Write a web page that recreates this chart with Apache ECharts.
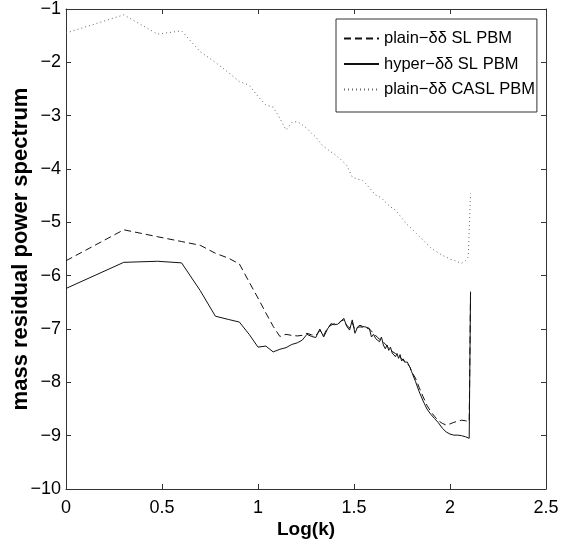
<!DOCTYPE html>
<html>
<head>
<meta charset="utf-8">
<script src="https://cdn.jsdelivr.net/npm/echarts@6/dist/echarts.min.js"></script>
<style>html,body{margin:0;padding:0;background:#fff;}#c{width:563px;height:548px;}</style>
</head>
<body>
<div id="c"></div>
<script>
// plain-δδ SL PBM (dashed)
const plainSL_x = [0,0.301,0.477,0.602,0.699,0.778,0.845,0.903,0.954,1.0,1.041,1.079,1.114,1.146,1.176,1.204,1.230,1.255,1.279,1.301,1.322,1.342,1.362,1.380,1.398,1.415,1.431,1.447,1.462,1.477,1.491,1.505,1.519,1.531,1.556,1.580,1.602,1.623,1.643,1.663,1.681,1.699,1.716,1.732,1.748,1.763,1.778,1.792,1.80,1.82,1.84,1.86,1.88,1.90,1.92,1.94,1.96,1.98,2.00,2.02,2.04,2.06,2.08,2.100,2.107];
const plainSL_y = [-5.72,-5.14,-5.27,-5.36,-5.43,-5.58,-5.67,-5.78,-6.12,-6.42,-6.70,-6.95,-7.14,-7.10,-7.12,-7.13,-7.12,-7.08,-7.11,-7.12,-7.03,-7.12,-6.98,-6.93,-6.90,-6.92,-6.85,-6.83,-6.93,-6.98,-6.88,-7.02,-6.97,-6.96,-6.97,-7.00,-7.08,-7.16,-7.22,-7.28,-7.36,-7.42,-7.46,-7.50,-7.56,-7.60,-7.64,-7.72,-7.80,-7.92,-8.10,-8.27,-8.43,-8.55,-8.64,-8.72,-8.77,-8.80,-8.78,-8.75,-8.73,-8.71,-8.72,-8.74,-6.30];
// hyper-δδ SL PBM (solid)
const hyperSL_x = [0,0.301,0.477,0.602,0.699,0.778,0.845,0.903,0.954,1.0,1.041,1.079,1.114,1.146,1.176,1.204,1.230,1.255,1.279,1.301,1.322,1.342,1.362,1.380,1.398,1.415,1.431,1.447,1.462,1.477,1.491,1.505,1.519,1.531,1.544,1.556,1.568,1.580,1.591,1.602,1.613,1.623,1.633,1.643,1.653,1.663,1.672,1.681,1.690,1.699,1.708,1.716,1.724,1.732,1.740,1.748,1.756,1.763,1.771,1.778,1.785,1.792,1.80,1.82,1.84,1.86,1.88,1.90,1.92,1.94,1.96,1.98,2.00,2.02,2.04,2.06,2.08,2.100,2.107];
const hyperSL_y = [-6.24,-5.75,-5.73,-5.76,-6.28,-6.76,-6.82,-6.87,-7.10,-7.34,-7.32,-7.43,-7.38,-7.35,-7.29,-7.26,-7.21,-7.10,-7.14,-7.16,-7.00,-7.15,-7.00,-6.90,-6.92,-6.91,-6.86,-6.80,-6.95,-7.02,-6.83,-7.08,-6.96,-6.93,-6.95,-6.96,-6.97,-6.99,-7.15,-7.10,-7.18,-7.21,-7.24,-7.15,-7.30,-7.37,-7.30,-7.40,-7.34,-7.45,-7.42,-7.52,-7.46,-7.55,-7.48,-7.60,-7.56,-7.62,-7.60,-7.62,-7.68,-7.72,-7.80,-7.98,-8.18,-8.35,-8.50,-8.60,-8.68,-8.76,-8.86,-8.93,-8.97,-8.99,-8.99,-9.00,-9.02,-9.05,-6.30];
// plain-δδ CASL PBM (dotted)
const plainCASL_x = [0,0.301,0.477,0.602,0.699,0.778,0.845,0.903,0.954,1.0,1.041,1.079,1.114,1.146,1.176,1.204,1.230,1.255,1.279,1.301,1.322,1.342,1.362,1.380,1.398,1.431,1.462,1.491,1.519,1.544,1.568,1.591,1.613,1.643,1.663,1.690,1.716,1.740,1.771,1.80,1.825,1.85,1.877,1.90,1.93,1.96,1.98,2.00,2.02,2.04,2.06,2.08,2.095,2.107];
const plainCASL_y = [-1.45,-1.11,-1.47,-1.41,-1.80,-2.00,-2.19,-2.36,-2.43,-2.64,-2.80,-2.84,-3.05,-3.27,-3.13,-3.11,-3.17,-3.24,-3.33,-3.40,-3.50,-3.58,-3.63,-3.68,-3.72,-3.82,-3.93,-4.15,-4.19,-4.21,-4.30,-4.40,-4.49,-4.54,-4.62,-4.71,-4.77,-4.88,-5.02,-5.12,-5.21,-5.30,-5.40,-5.48,-5.55,-5.62,-5.65,-5.69,-5.71,-5.74,-5.77,-5.72,-5.65,-4.46];

const seriesNames = ['plain\u2212\u03b4\u03b4 SL PBM','hyper\u2212\u03b4\u03b4 SL PBM','plain\u2212\u03b4\u03b4 CASL PBM'];
const xTicks = {min:0, max:2.5, interval:0.5};
const yTicks = {min:-10, max:-1, interval:1};

function pairs(xs, ys){ return xs.map((x,i)=>[x, ys[i]]); }
function fmt(v){ return String(v).replace('-', '\u2212'); }

const chart = echarts.init(document.getElementById('c'), null, {renderer:'canvas'});
const font = 'Liberation Sans';
const frame = '#333';
const baseAxis = {
  axisLine:{show:true, onZero:false, lineStyle:{color:frame, width:1}},
  axisTick:{show:true, inside:true, length:5, lineStyle:{color:frame}},
  splitLine:{show:false}
};
chart.setOption({
  animation:false,
  backgroundColor:'#fff',
  grid:{left:66, top:9, right:17, bottom:59, containLabel:false, outerBoundsMode:'none'},
  legend:{
    orient:'vertical', left:336, top:19,
    padding:[11,2,14,7], itemWidth:35, itemHeight:14, itemGap:8.5,
    borderColor:frame, borderWidth:1, backgroundColor:'#fff',
    itemStyle:{opacity:0},
    textStyle:{fontFamily:font, fontSize:16.5, color:'#000'},
    data:seriesNames
  },
  xAxis:[
    Object.assign({type:'value', position:'bottom', min:xTicks.min, max:xTicks.max, interval:xTicks.interval,
      name:'Log(k)', nameLocation:'middle', nameGap:31, nameMoveOverlap:false,
      nameTextStyle:{fontFamily:font, fontSize:19, fontWeight:'bold', color:'#000'},
      axisLabel:{show:true, margin:10, fontFamily:font, fontSize:18, color:'#000', formatter:fmt}}, baseAxis),
    Object.assign({type:'value', position:'top', min:xTicks.min, max:xTicks.max, interval:xTicks.interval,
      axisLabel:{show:false}}, baseAxis)
  ],
  yAxis:[
    Object.assign({type:'value', position:'left', min:yTicks.min, max:yTicks.max, interval:yTicks.interval,
      name:'mass residual power spectrum', nameLocation:'middle', nameGap:34, nameMoveOverlap:false,
      nameTextStyle:{fontFamily:font, fontSize:22, fontWeight:'bold', color:'#000'},
      axisLabel:{show:true, margin:5, fontFamily:font, fontSize:18, color:'#000', formatter:fmt}}, baseAxis),
    Object.assign({type:'value', position:'right', min:yTicks.min, max:yTicks.max, interval:yTicks.interval,
      axisLabel:{show:false}}, baseAxis)
  ],
  series:[
    {name:seriesNames[0], type:'line', data:pairs(plainSL_x, plainSL_y), showSymbol:false, symbol:'none',
      lineStyle:{color:'#111', width:1, type:[7,4]}, itemStyle:{color:'#111'}},
    {name:seriesNames[1], type:'line', data:pairs(hyperSL_x, hyperSL_y), showSymbol:false, symbol:'none',
      lineStyle:{color:'#111', width:1, type:'solid'}, itemStyle:{color:'#111'}},
    {name:seriesNames[2], type:'line', data:pairs(plainCASL_x, plainCASL_y), showSymbol:false, symbol:'none',
      lineStyle:{color:'#666', width:1, type:[1,3]}, itemStyle:{color:'#666'}}
  ]
});
</script>
</body>
</html>
